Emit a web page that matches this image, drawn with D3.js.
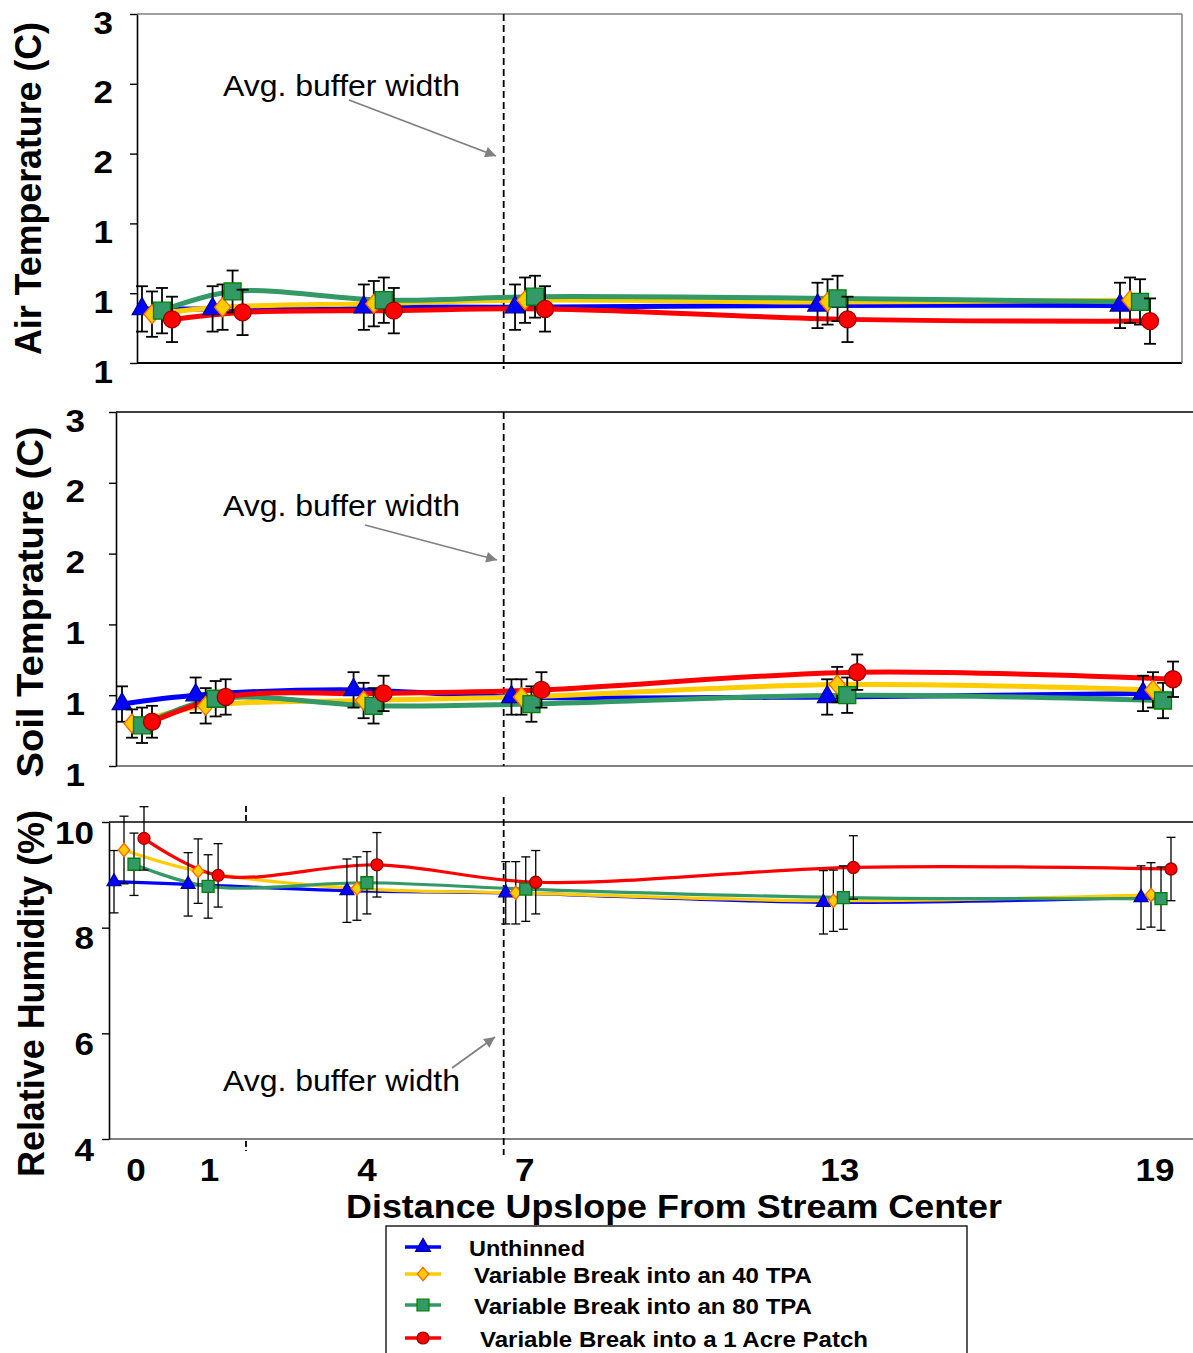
<!DOCTYPE html>
<html>
<head>
<meta charset="utf-8">
<script src="https://cdn.jsdelivr.net/npm/d3@7"></script>
<style>
  html, body { margin: 0; padding: 0; background: #ffffff; }
  svg { display: block; }
</style>
</head>
<body>
<svg id="chart" width="1193" height="1353"></svg>
<script>
// ---- Sampling stations along the transect (distance upslope from stream center) ----
const stations = ["0", "1", "4", "7", "13", "19"];
// plotted position of each station on the distance axis
const stationPos = [-0.4, 1, 4, 7, 13, 19];
// average riparian buffer width (distance units)
const avgBufferWidth = 6.6;

// ---- Treatments ----
const seriesNames = [
  "Unthinned",
  "Variable Break into an 40 TPA",
  "Variable Break into an 80 TPA",
  "Variable Break into a 1 Acre Patch"
];

// ---- Air temperature (C): means and error half-widths ----
const airTicks = [0.6, 1.0, 1.4, 1.8, 2.2, 2.6];
const airUnthinned = [0.91, 0.91, 0.92, 0.92, 0.93, 0.93];
const air40TPA     = [0.88, 0.92, 0.94, 0.96, 0.95, 0.96];
const air80TPA     = [0.90, 1.01, 0.96, 0.98, 0.97, 0.95];
const airPatch     = [0.85, 0.89, 0.90, 0.91, 0.85, 0.84];
const airErrUnthinned = [0.13, 0.13, 0.13, 0.13, 0.13, 0.13];
const airErr40TPA     = [0.13, 0.13, 0.13, 0.13, 0.13, 0.13];
const airErr80TPA     = [0.13, 0.12, 0.13, 0.12, 0.13, 0.13];
const airErrPatch     = [0.13, 0.13, 0.13, 0.13, 0.13, 0.13];

// ---- Soil temperature (C) ----
const soilTicks = [0.6, 1.0, 1.4, 1.8, 2.2, 2.6];
const soilUnthinned = [0.95, 1.00, 1.03, 0.99, 0.99, 1.01];
const soil40TPA     = [0.84, 0.94, 0.97, 0.99, 1.06, 1.03];
const soil80TPA     = [0.83, 0.98, 0.94, 0.95, 1.00, 0.97];
const soilPatch     = [0.85, 0.99, 1.01, 1.03, 1.13, 1.09];
const soilErrUnthinned = [0.10, 0.10, 0.10, 0.10, 0.10, 0.10];
const soilErr40TPA     = [0.08, 0.10, 0.10, 0.10, 0.10, 0.10];
const soilErr80TPA     = [0.10, 0.10, 0.10, 0.10, 0.10, 0.10];
const soilErrPatch     = [0.09, 0.10, 0.10, 0.10, 0.10, 0.10];

// ---- Relative humidity (%) ----
const rhTicks = [4, 6, 8, 10];
const rhUnthinned = [8.87, 8.82, 8.70, 8.66, 8.48, 8.57];
const rh40TPA     = [9.47, 9.07, 8.74, 8.66, 8.51, 8.62];
const rh80TPA     = [9.20, 8.78, 8.85, 8.73, 8.57, 8.55];
const rhPatch     = [9.69, 8.99, 9.19, 8.86, 9.14, 9.11];
const rhErrUnthinned = [0.59, 0.60, 0.60, 0.59, 0.60, 0.60];
const rhErr40TPA     = [0.64, 0.61, 0.60, 0.59, 0.58, 0.61];
const rhErr80TPA     = [0.59, 0.60, 0.59, 0.61, 0.60, 0.60];
const rhErrPatch     = [0.60, 0.60, 0.61, 0.60, 0.60, 0.60];

// ---------------------------------------------------------------------------
const FONT = '"Liberation Sans", Arial, Helvetica, sans-serif';
const DIGIT_W = 19.5; // advance per digit of the wide bold numerals
const svg = d3.select("#chart");
svg.append("rect").attr("width", 1193).attr("height", 1353).attr("fill", "#ffffff");

const seriesStyle = [
  { line: "#0000FF", fill: "#0000FF", stroke: "#000099", shape: "triangle" },
  { line: "#FFCC00", fill: "#FFCC00", stroke: "#FF6600", shape: "diamond" },
  { line: "#339966", fill: "#339966", stroke: "#008000", shape: "square" },
  { line: "#FF0000", fill: "#FF0000", stroke: "#990000", shape: "circle" }
];
// horizontal stagger of the treatments around each station (px)
const seriesShift = [0, 10, 20, 30];

function markerPath(shape, s) {
  const h = s / 2;
  switch (shape) {
    case "triangle": {
      const w = s * 1.15 / 2;
      return `M0,${-s * 2 / 3}L${w},${s / 3}L${-w},${s / 3}Z`;
    }
    case "diamond":
      return `M0,${-h * 1.12}L${h * 0.95},0L0,${h * 1.12}L${-h * 0.95},0Z`;
    case "square":
      return `M${-h},${-h}H${h}V${h}H${-h}Z`;
    default:
      return d3.symbol(d3.symbolCircle, Math.PI * h * h)();
  }
}

// shared distance axis (station labels, buffer line)
const xAxisScale = d3.scaleLinear()
  .domain([stationPos[0], stationPos[stationPos.length - 1]])
  .range([136, 1155]);

const panels = [
  {
    title: "Air Temperature (C)", titleX: 41, titleLen: 333,
    top: 14, bottom: 363, left: 137, right: 1182,
    frame: { top: "#808080", right: "#808080", bottom: "#000000" },
    xRange: [142, 1120], yDomain: [0.6, 2.6], ticks: airTicks, fmt: ".0f",
    labelX: -24, labelDy: 19, titleShift: 0,
    series: [airUnthinned, air40TPA, air80TPA, airPatch],
    errors: [airErrUnthinned, airErr40TPA, airErr80TPA, airErrPatch],
    lineW: 5, mk: 17, cap: 12, errW: 1.8,
    dash: [14, 369],
    note: { x: 223, y: 96, from: [349, 100], to: [496, 156] }
  },
  {
    title: "Soil Temprature (C)", titleX: 43, titleLen: 351,
    top: 412, bottom: 766, left: 116, right: 1193,
    frame: { top: "#000000", right: null, bottom: "#808080" },
    xRange: [122, 1143], yDomain: [0.6, 2.6], ticks: soilTicks, fmt: ".0f",
    labelX: -31, labelDy: 19, titleShift: 13,
    series: [soilUnthinned, soil40TPA, soil80TPA, soilPatch],
    errors: [soilErrUnthinned, soilErr40TPA, soilErr80TPA, soilErrPatch],
    lineW: 5, mk: 17, cap: 12, errW: 1.8,
    dash: [412, 766],
    note: { x: 223, y: 516, from: [365, 525], to: [497, 560] }
  },
  {
    title: "Relative Humidity (%)", titleX: 44, titleLen: 367,
    top: 822, bottom: 1139, left: 109, right: 1193,
    frame: { top: "#000000", right: null, bottom: "#808080" },
    xRange: [114, 1141], yDomain: [4, 10], ticks: rhTicks, fmt: "d",
    labelX: -15, labelDy: 21, titleShift: 13,
    series: [rhUnthinned, rh40TPA, rh80TPA, rhPatch],
    errors: [rhErrUnthinned, rhErr40TPA, rhErr80TPA, rhErrPatch],
    lineW: 3.2, mk: 12, cap: 9, errW: 1.3,
    dash: [797, 1155],
    note: { x: 223, y: 1091, from: [452, 1068], to: [495, 1037] }
  }
];

// arrowhead for the buffer annotation
svg.append("defs").append("marker")
  .attr("id", "arrow").attr("viewBox", "0 0 10 10")
  .attr("refX", 10).attr("refY", 5)
  .attr("markerWidth", 7).attr("markerHeight", 6)
  .attr("markerUnits", "strokeWidth")
  .attr("orient", "auto")
  .append("path").attr("d", "M0,0L10,5L0,10Z").attr("fill", "#808080");

panels.forEach(p => {
  const g = svg.append("g");
  const x = d3.scaleLinear()
    .domain([stationPos[0], stationPos[stationPos.length - 1]])
    .range(p.xRange);
  const y = d3.scaleLinear().domain(p.yDomain).range([p.bottom, p.top]);

  // plot frame
  g.append("line").attr("x1", p.left).attr("x2", p.right).attr("y1", p.top).attr("y2", p.top)
    .attr("stroke", p.frame.top).attr("stroke-width", 1.5);
  g.append("line").attr("x1", p.left).attr("x2", p.right).attr("y1", p.bottom).attr("y2", p.bottom)
    .attr("stroke", p.frame.bottom).attr("stroke-width", 1.8);
  if (p.frame.right) {
    g.append("line").attr("x1", p.right).attr("x2", p.right).attr("y1", p.top).attr("y2", p.bottom)
      .attr("stroke", p.frame.right).attr("stroke-width", 1.5);
  }

  // value axis
  const axis = d3.axisLeft(y).tickValues(p.ticks).tickFormat(d3.format(p.fmt)).tickSize(7).tickSizeOuter(0);
  const axG = g.append("g").attr("transform", `translate(${p.left},0)`).call(axis);
  axG.select(".domain").attr("stroke", "#000").attr("stroke-width", 1.6);
  axG.selectAll(".tick line").attr("stroke", "#000").attr("stroke-width", 1.4);
  axG.selectAll(".tick text")
    .attr("x", p.labelX).attr("dy", p.labelDy)
    .attr("font-family", FONT).attr("font-size", 31).attr("font-weight", "bold")
    .attr("fill", "#000")
    .attr("textLength", function () { return DIGIT_W * this.textContent.length; })
    .attr("lengthAdjust", "spacingAndGlyphs");

  // axis title
  g.append("text")
    .attr("transform", `translate(${p.titleX},${(p.top + p.bottom) / 2 + p.titleShift}) rotate(-90)`)
    .attr("text-anchor", "middle")
    .attr("font-family", FONT).attr("font-size", 36).attr("font-weight", "bold")
    .attr("textLength", p.titleLen).attr("lengthAdjust", "spacingAndGlyphs")
    .text(p.title);

  // average buffer width marker
  const bx = xAxisScale(avgBufferWidth);
  g.append("line").attr("x1", bx).attr("x2", bx).attr("y1", p.dash[0]).attr("y2", p.dash[1])
    .attr("stroke", "#000").attr("stroke-width", 1.8).attr("stroke-dasharray", "7,4");

  g.append("text").attr("x", p.note.x).attr("y", p.note.y)
    .attr("font-family", FONT).attr("font-size", 29)
    .attr("textLength", 237).attr("lengthAdjust", "spacingAndGlyphs")
    .text("Avg. buffer width");
  g.append("line")
    .attr("x1", p.note.from[0]).attr("y1", p.note.from[1])
    .attr("x2", p.note.to[0]).attr("y2", p.note.to[1])
    .attr("stroke", "#808080").attr("stroke-width", 1.8)
    .attr("marker-end", "url(#arrow)");

  // treatment lines
  const line = d3.line().curve(d3.curveCatmullRom.alpha(0.5));
  p.series.forEach((vals, si) => {
    const pts = vals.map((v, i) => [x(stationPos[i]) + seriesShift[si], y(v)]);
    g.append("path").attr("d", line(pts))
      .attr("fill", "none").attr("stroke", seriesStyle[si].line)
      .attr("stroke-width", p.lineW).attr("stroke-linejoin", "round").attr("stroke-linecap", "round");
  });

  // error bars and markers
  p.series.forEach((vals, si) => {
    const st = seriesStyle[si];
    const errs = p.errors[si];
    const eg = g.append("g");
    vals.forEach((v, i) => {
      const cx = x(stationPos[i]) + seriesShift[si];
      const y0 = y(v - errs[i]), y1 = y(v + errs[i]);
      eg.append("line").attr("x1", cx).attr("x2", cx).attr("y1", y0).attr("y2", y1)
        .attr("stroke", "#000").attr("stroke-width", p.errW);
      [y0, y1].forEach(yy => {
        eg.append("line").attr("x1", cx - p.cap / 2).attr("x2", cx + p.cap / 2)
          .attr("y1", yy).attr("y2", yy).attr("stroke", "#000").attr("stroke-width", p.errW);
      });
    });
    g.append("g").selectAll("path").data(vals).join("path")
      .attr("transform", (v, i) => `translate(${x(stationPos[i]) + seriesShift[si]},${y(v)})`)
      .attr("d", markerPath(st.shape, p.mk))
      .attr("fill", st.fill).attr("stroke", st.stroke).attr("stroke-width", 1.3);
  });
});

// stray station ticks on the humidity panel
[[806, 822], [1141, 1151]].forEach(([a, b]) => {
  svg.append("line").attr("x1", 246).attr("x2", 246).attr("y1", a).attr("y2", b)
    .attr("stroke", "#000").attr("stroke-width", 1.8).attr("stroke-dasharray", "6,3");
});

// station labels
svg.append("g").selectAll("text").data(stations).join("text")
  .attr("x", (d, i) => xAxisScale(stationPos[i]))
  .attr("y", 1181)
  .attr("text-anchor", "middle")
  .attr("font-family", FONT).attr("font-size", 31).attr("font-weight", "bold")
  .attr("textLength", d => DIGIT_W * d.length).attr("lengthAdjust", "spacingAndGlyphs")
  .text(d => d);

svg.append("text")
  .attr("x", 674).attr("y", 1218).attr("text-anchor", "middle")
  .attr("font-family", FONT).attr("font-size", 33).attr("font-weight", "bold")
  .attr("textLength", 656).attr("lengthAdjust", "spacingAndGlyphs")
  .text("Distance Upslope From Stream Center");

// legend
const legendRows = [1247, 1274, 1305, 1338];
const legendIndent = [0, 5, 5, 11];
const legendLen = [116, 338, 338, 388];
const lg = svg.append("g");
lg.append("rect").attr("x", 386).attr("y", 1226).attr("width", 581).attr("height", 160)
  .attr("fill", "#fff").attr("stroke", "#000").attr("stroke-width", 1.3);
seriesNames.forEach((name, si) => {
  const st = seriesStyle[si];
  const ry = legendRows[si];
  lg.append("line").attr("x1", 405).attr("x2", 441).attr("y1", ry).attr("y2", ry)
    .attr("stroke", st.line).attr("stroke-width", 3.5);
  lg.append("path").attr("transform", `translate(423,${ry})`)
    .attr("d", markerPath(st.shape, st.shape === "triangle" ? 13 : 12))
    .attr("fill", st.fill).attr("stroke", st.stroke).attr("stroke-width", 1.2);
  lg.append("text").attr("x", 469 + legendIndent[si]).attr("y", ry + 9)
    .attr("font-family", FONT).attr("font-size", 22).attr("font-weight", "bold")
    .attr("textLength", legendLen[si]).attr("lengthAdjust", "spacingAndGlyphs")
    .text(name);
});
</script>
</body>
</html>
